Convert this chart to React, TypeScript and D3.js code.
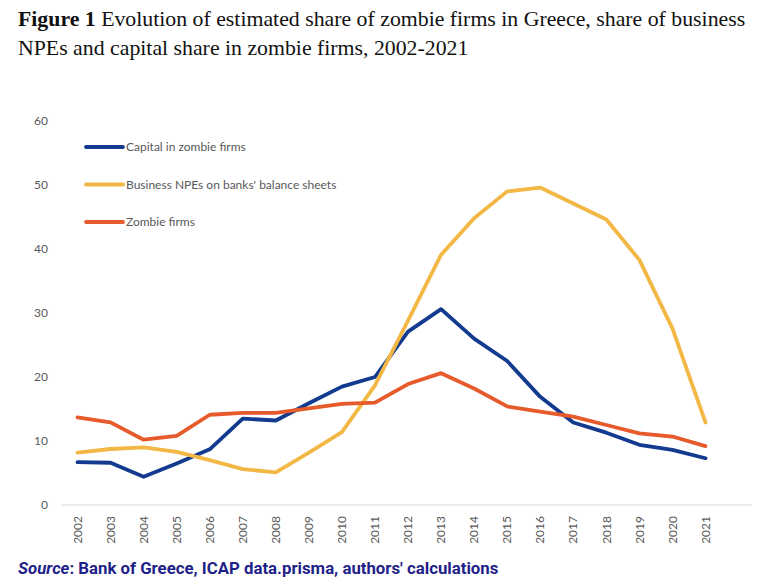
import React from "react";
import * as d3 from "d3";

const years = ["2002","2003","2004","2005","2006","2007","2008","2009","2010","2011","2012","2013","2014","2015","2016","2017","2018","2019","2020","2021"];
const capital = [6.7,6.6,4.4,6.5,8.7,13.5,13.2,15.9,18.5,20.0,27.1,30.6,26.0,22.5,16.9,12.9,11.3,9.4,8.6,7.3];
const npes = [8.2,8.75,9.0,8.3,7.0,5.6,5.1,8.2,11.4,18.7,28.8,39.1,44.8,49.0,49.6,47.1,44.6,38.3,27.6,12.9];
const zombie = [13.7,12.9,10.2,10.8,14.1,14.4,14.4,15.1,15.8,16.0,18.9,20.6,18.2,15.4,14.6,13.8,12.5,11.2,10.7,9.2];
const yTicks = [0,10,20,30,40,50,60];

const seriesList = [
  { name: "Capital in zombie firms", values: capital, color: "#123a8f" },
  { name: "Business NPEs on banks' balance sheets", values: npes, color: "#f2b744" },
  { name: "Zombie firms", values: zombie, color: "#e65a2b" },
];

export default function App() {
  const W = 763, H = 584;
  const band = 33.05;
  const x = d3.scaleBand<string>().domain(years).range([61, 61 + band * years.length]).padding(0);
  const y = d3.scaleLinear().domain([0, 60]).range([505, 121]);
  const cx = (yr: string) => (x(yr) ?? 0) + x.bandwidth() / 2;
  const line = d3.line<number>().x((_, i) => cx(years[i])).y(v => y(v));
  const axisFont = "Lato, 'Open Sans', sans-serif";
  const serif = "'Liberation Serif', 'DejaVu Serif', serif";
  return (
    <svg width={W} height={H} style={{ position: "absolute", left: 0, top: 0, background: "#fff" }}>
      <text x={18} y={26} fontFamily={serif} fontSize={21.8} fill="#111">
        <tspan fontWeight="bold">Figure 1</tspan> Evolution of estimated share of zombie firms in Greece, share of business
      </text>
      <text x={18} y={55} fontFamily={serif} fontSize={21.8} fill="#111">
        NPEs and capital share in zombie firms, 2002-2021
      </text>
      {yTicks.map(t => (
        <text key={t} x={48} y={y(t)} dy="0.35em" textAnchor="end" fontFamily={axisFont} fontSize={12} fill="#595959">{t}</text>
      ))}
      <line x1={61} x2={752} y1={y(0)} y2={y(0)} stroke="#d9d9d9" strokeWidth={1.2} />
      {years.map(yr => (
        <text key={yr} transform={`translate(${cx(yr)},516) rotate(-90)`} textAnchor="end" dy="0.35em" fontFamily={axisFont} fontSize={12} fill="#595959">{yr}</text>
      ))}
      {seriesList.map(s => (
        <path key={s.name} d={line(s.values) ?? ""} fill="none" stroke={s.color} strokeWidth={3.8} strokeLinejoin="round" strokeLinecap="round" />
      ))}
      {seriesList.map((s, i) => (
        <g key={s.name} transform={`translate(0,${147 + i * 37.5})`}>
          <line x1={86} x2={123} y1={0} y2={0} stroke={s.color} strokeWidth={3.8} strokeLinecap="round" />
          <text x={126} y={0} dy="0.35em" fontFamily={axisFont} fontSize={12} fill="#595959">{s.name}</text>
        </g>
      ))}
      <text x={18} y={574} fontFamily="Roboto, 'Liberation Sans', sans-serif" fontSize={16.8} fontWeight="bold" fill="#1f1f8a">
        <tspan fontStyle="italic">Source</tspan>: Bank of Greece, ICAP data.prisma, authors' calculations
      </text>
    </svg>
  );
}
